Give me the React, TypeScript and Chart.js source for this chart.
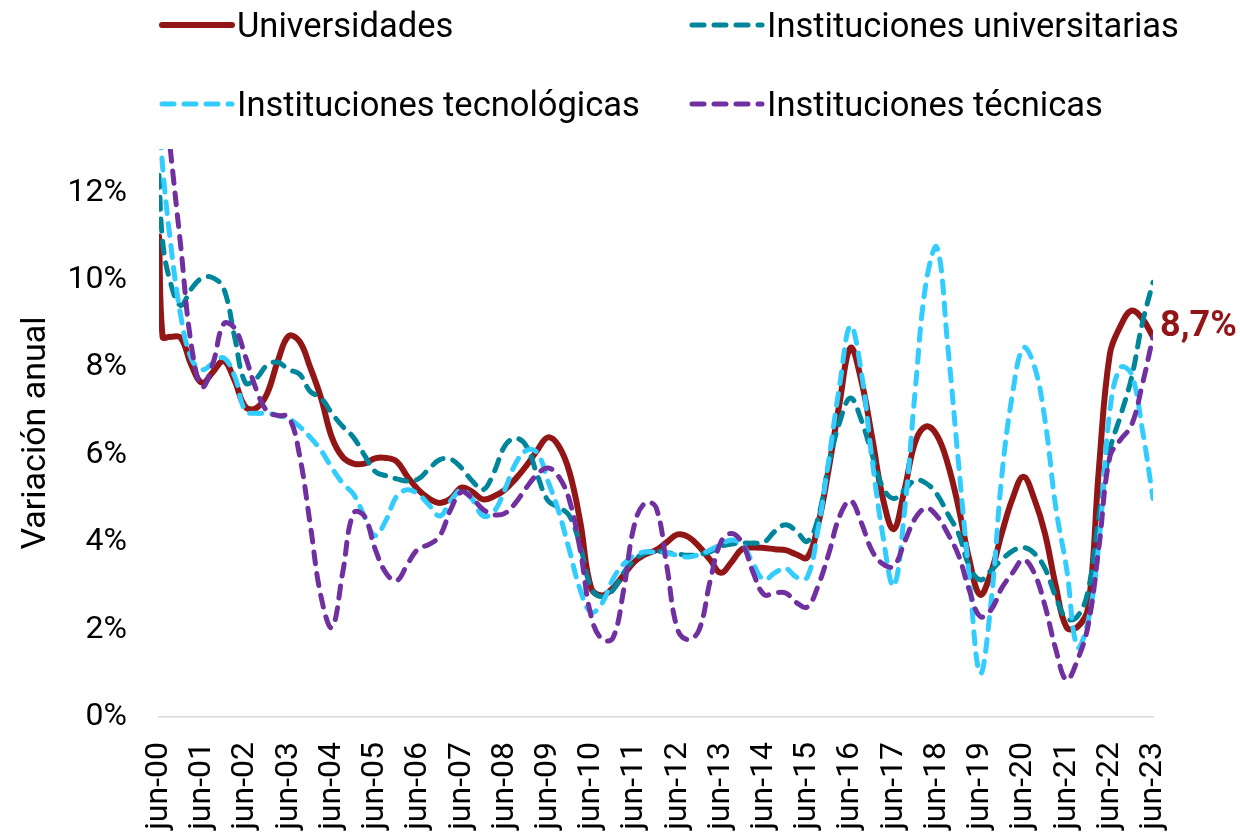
import React, { useEffect, useRef } from 'react';
import { Chart, registerables } from 'chart.js';

Chart.register(...registerables);

// Months elapsed since jun-00 for each observation
const months = [
  0, 1, 3, 6, 9, 12, 15, 18, 21, 24, 27, 30, 33, 36, 39, 42, 45, 48, 51, 54, 57, 60,
  63, 66, 69, 72, 75, 78, 81, 84, 87, 90, 93, 96, 99, 102, 105, 108, 111, 114, 117, 120,
  123, 126, 129, 132, 135, 138, 141, 144, 147, 150, 153, 156, 159, 162, 165, 168, 171, 174,
  177, 180, 183, 186, 189, 192, 195, 198, 201, 204, 207, 210, 213, 216, 219, 222, 225, 228,
  231, 234, 237, 240, 243, 246, 249, 252, 255, 258, 261, 264, 267, 270, 273, 276,
];

const xTickLabels = [
  'jun-00', 'jun-01', 'jun-02', 'jun-03', 'jun-04', 'jun-05', 'jun-06', 'jun-07',
  'jun-08', 'jun-09', 'jun-10', 'jun-11', 'jun-12', 'jun-13', 'jun-14', 'jun-15',
  'jun-16', 'jun-17', 'jun-18', 'jun-19', 'jun-20', 'jun-21', 'jun-22', 'jun-23',
];

const seriesNames = [
  'Universidades',
  'Instituciones universitarias',
  'Instituciones tecnológicas',
  'Instituciones técnicas',
];

const universidades = [
  11.0, 8.7, 8.7, 8.68, 8.05, 7.65, 7.9, 8.15, 7.7, 7.1, 7.07, 7.4, 8.15, 8.72, 8.6, 8.0,
  7.3, 6.4, 5.95, 5.8, 5.8, 5.92, 5.93, 5.85, 5.5, 5.2, 5.0, 4.9, 5.0, 5.25, 5.15, 4.98,
  5.05, 5.2, 5.45, 5.75, 6.1, 6.4, 6.2, 5.6, 4.45, 2.95, 2.78, 2.95, 3.25, 3.55, 3.72, 3.82,
  4.0, 4.18, 4.12, 3.9, 3.6, 3.3, 3.55, 3.85, 3.88, 3.87, 3.84, 3.82, 3.72, 3.65, 4.4, 5.7,
  7.2, 8.45, 7.7, 6.4, 5.0, 4.3, 5.2, 6.3, 6.65, 6.45, 5.8, 4.8, 3.6, 2.8, 3.3, 4.2,
  5.0, 5.5, 5.0, 4.2, 3.0, 2.05, 2.06, 2.5, 5.7, 8.3, 8.95, 9.3, 9.12, 8.7,
];

const instUniversitarias = [
  12.4, 10.9, 10.0, 9.42, 9.8, 10.05, 10.05, 9.8, 8.7, 7.65, 7.75, 8.05, 8.12, 7.95, 7.85, 7.45,
  7.3, 6.95, 6.65, 6.4, 6.0, 5.62, 5.52, 5.45, 5.4, 5.45, 5.68, 5.89, 5.9, 5.7, 5.4, 5.2,
  5.6, 6.2, 6.38, 6.2, 5.55, 4.95, 4.8, 4.6, 3.9, 2.95, 2.75, 2.9, 3.3, 3.6, 3.75, 3.8,
  3.76, 3.73, 3.7, 3.72, 3.78, 3.9, 3.96, 3.98, 3.98, 4.0, 4.25, 4.4, 4.25, 4.02, 4.55, 5.8,
  6.75, 7.3, 6.8, 6.0, 5.25, 5.0, 5.2, 5.42, 5.35, 5.1, 4.65, 4.2, 3.45, 3.14, 3.35, 3.6,
  3.8, 3.88, 3.75, 3.4, 2.75, 2.25, 2.3, 2.9, 4.6, 6.1, 6.9, 7.75, 9.0, 9.95,
];

const instTecnologicas = [
  13.8, 12.6, 11.0, 9.2, 8.2, 7.95, 8.1, 8.22, 7.8, 7.0, 6.95, 6.95, 6.9, 6.83, 6.65, 6.4,
  6.1, 5.7, 5.35, 5.1, 4.6, 4.15, 4.5, 5.05, 5.2, 5.1, 4.85, 4.6, 4.95, 5.2, 4.98, 4.6,
  4.7, 5.2, 5.8, 6.1, 6.05, 5.4, 4.7, 3.8, 2.9, 2.4, 2.6, 3.15, 3.5, 3.7, 3.78, 3.77,
  3.75, 3.7, 3.66, 3.72, 3.82, 3.95, 4.05, 3.95, 3.5, 3.14, 3.3, 3.4, 3.2, 3.2, 4.3, 5.9,
  7.6, 8.95, 7.9, 5.9, 4.15, 3.0, 4.7, 7.5, 9.95, 10.75, 8.5, 5.8, 3.2, 1.0, 2.6, 5.5,
  7.4, 8.45, 8.05, 6.8, 4.8, 3.4, 1.6, 2.2, 4.0, 7.0, 8.0, 7.85, 6.6, 5.0,
];

const instTecnicas = [
  15.5, 14.6, 13.1, 10.8, 8.5, 7.56, 8.1, 9.0, 8.9, 8.25, 7.5, 7.0, 6.9, 6.87, 6.0, 4.4,
  2.75, 2.05, 3.3, 4.67, 4.6, 3.85, 3.3, 3.12, 3.5, 3.85, 3.95, 4.15, 4.75, 5.15, 5.0, 4.75,
  4.63, 4.66, 4.9, 5.25, 5.55, 5.7, 5.5, 4.95, 3.8, 2.3, 1.78, 1.8, 2.9, 4.4, 4.9, 4.8,
  3.45, 2.0, 1.77, 2.0, 3.1, 4.0, 4.2, 3.97, 3.3, 2.8, 2.84, 2.84, 2.62, 2.52, 3.0, 3.75,
  4.6, 4.95, 4.45, 3.8, 3.5, 3.45, 4.0, 4.55, 4.78, 4.6, 4.2, 3.7, 2.9, 2.3, 2.45, 2.95,
  3.3, 3.6, 3.3, 2.55, 1.55, 0.85, 1.3, 2.1, 3.9, 5.95, 6.35, 6.67, 7.6, 8.7,
];

const seriesValues = [universidades, instUniversitarias, instTecnologicas, instTecnicas];
const seriesColors = ['#921616', '#00869B', '#33CCFF', '#7030A0'];

export default function App() {
  const ref = useRef<HTMLCanvasElement>(null);

  useEffect(() => {
    document.body.style.margin = '0';
    const canvas = ref.current;
    if (!canvas) return;

    const widths = [6, 5, 5, 5];
    const dashes = [[], [12, 10], [12, 10], [12, 10]];
    const orders = [4, 3, 2, 1];

    const datasets = seriesValues.map((vals, i) => ({
      label: seriesNames[i],
      data: months.map((m, j) => ({ x: m, y: vals[j] })),
      borderColor: seriesColors[i],
      backgroundColor: seriesColors[i],
      borderWidth: widths[i],
      borderDash: dashes[i],
      borderCapStyle: 'round' as const,
      borderJoinStyle: 'round' as const,
      tension: 0.4,
      pointRadius: 0,
      fill: false,
      order: orders[i],
    }));

    const legendPlugin = {
      id: 'customLegend',
      afterDraw(chart: any) {
        const c = chart.ctx as CanvasRenderingContext2D;
        const pos = [
          [160, 25],
          [690, 25],
          [160, 104],
          [690, 104],
        ];
        c.save();
        seriesNames.forEach((name, i) => {
          const [lx, ly] = pos[i];
          c.beginPath();
          c.strokeStyle = seriesColors[i];
          c.lineWidth = widths[i];
          c.lineCap = 'round';
          c.setLineDash(dashes[i]);
          c.moveTo(lx + 2, ly);
          c.lineTo(lx + 72, ly);
          c.stroke();
          c.setLineDash([]);
          c.fillStyle = '#000';
          c.font = '34.5px Roboto';
          c.textAlign = 'left';
          c.textBaseline = 'middle';
          c.fillText(name, lx + 77, ly + 3);
        });
        c.restore();
      },
    };

    const lastLabelPlugin = {
      id: 'lastLabel',
      afterDatasetsDraw(chart: any) {
        const meta = chart.getDatasetMeta(0);
        const pt = meta.data[meta.data.length - 1];
        if (!pt) return;
        const v = universidades[universidades.length - 1];
        const txt = v.toFixed(1).replace('.', ',') + '%';
        const c = chart.ctx as CanvasRenderingContext2D;
        c.save();
        c.font = 'bold 36px Roboto';
        c.fillStyle = '#921616';
        c.textAlign = 'left';
        c.textBaseline = 'middle';
        c.fillText(txt, pt.x + 7, pt.y - 10);
        c.restore();
      },
    };

    const chart = new Chart(canvas, {
      type: 'line',
      data: { datasets },
      options: {
        responsive: false,
        animation: false,
        devicePixelRatio: 1,
        layout: { padding: { top: 149, right: 87, left: 0, bottom: 0 } },
        plugins: { legend: { display: false }, tooltip: { enabled: false } },
        elements: { point: { radius: 0 } },
        scales: {
          x: {
            type: 'linear',
            min: 0,
            max: 276,
            grid: { display: false, drawTicks: false },
            border: { display: true, color: '#d9d9d9', width: 1.5 },
            ticks: {
              stepSize: 12,
              autoSkip: false,
              maxRotation: 90,
              minRotation: 90,
              padding: 25,
              color: '#000',
              font: { family: 'Roboto', size: 32 },
              callback: (v: any) => xTickLabels[Math.round(Number(v) / 12)] ?? '',
            },
            afterFit: (s: any) => {
              s.height = 117;
            },
          },
          y: {
            min: 0,
            max: 13,
            grid: { display: false, drawTicks: false },
            border: { display: false },
            ticks: {
              stepSize: 2,
              padding: 32,
              color: '#000',
              font: { family: 'Roboto', size: 32 },
              callback: (v: any) => v + '%',
            },
            afterBuildTicks: (s: any) => {
              s.ticks = s.ticks.filter((t: any) => t.value % 2 === 0);
            },
            title: {
              display: true,
              text: 'Variación anual',
              color: '#000',
              font: { family: 'Roboto', size: 34 },
              padding: { top: 16, bottom: 0 },
            },
            afterFit: (s: any) => {
              s.width = 159;
            },
          },
        },
      },
      plugins: [legendPlugin, lastLabelPlugin],
    } as any);

    return () => chart.destroy();
  }, []);

  return (
    <div style={{ position: 'fixed', left: 0, top: 0, width: 1240, height: 834, background: '#fff' }}>
      <canvas ref={ref} width={1240} height={834} style={{ display: 'block' }} />
    </div>
  );
}
